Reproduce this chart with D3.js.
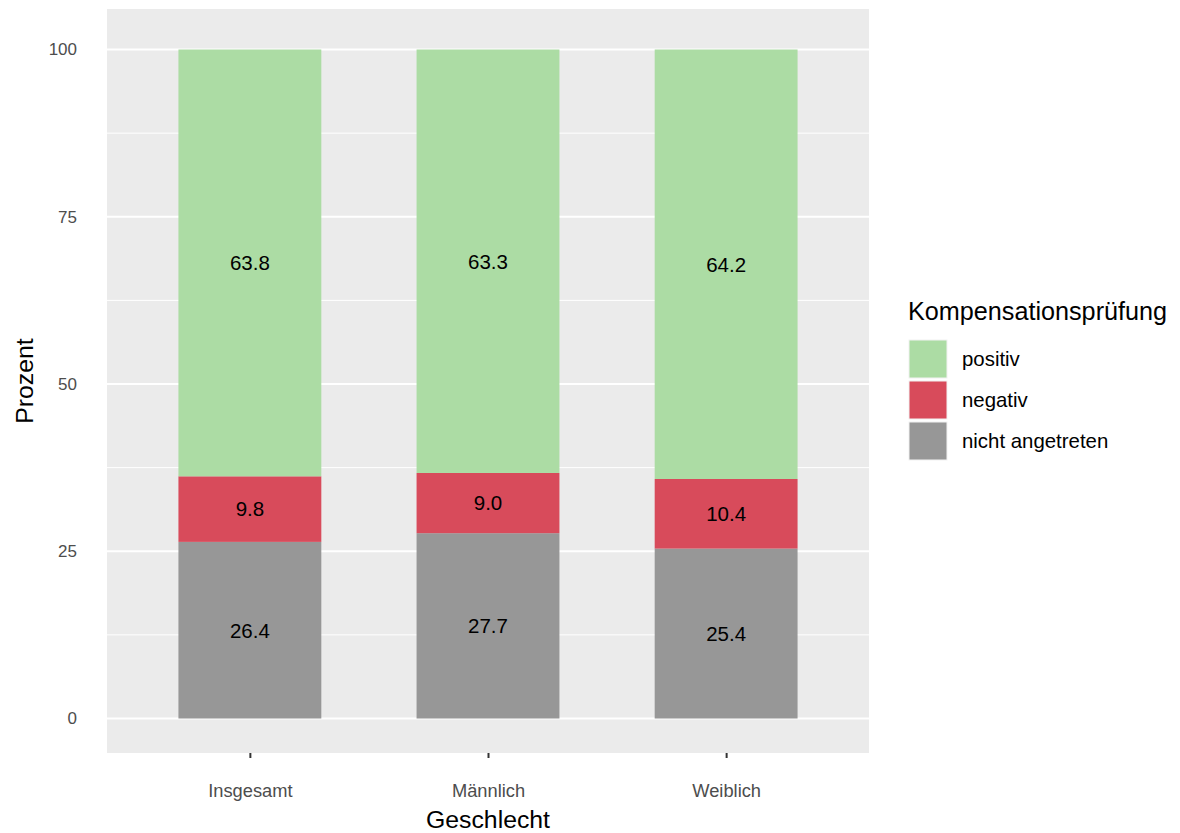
<!DOCTYPE html>
<html>
<head>
<meta charset="utf-8">
<script src="https://cdn.jsdelivr.net/npm/d3@7"></script>
<style>
  html, body { margin: 0; padding: 0; background: #ffffff; }
  svg { display: block; font-family: "Liberation Sans", Arial, sans-serif; }
</style>
</head>
<body>
<svg id="chart" width="1180" height="833"></svg>
<script>
// ---- data ----
const categories = ["Insgesamt", "Männlich", "Weiblich"];
const seriesNames = ["nicht angetreten", "negativ", "positiv"];   // stacking order from bottom
const nichtAngetreten = [26.4, 27.7, 25.4];
const negativ = [9.8, 9.0, 10.4];
const positiv = [63.8, 63.3, 64.2];
const yTicks = [0, 25, 50, 75, 100];
const yMinorTicks = [12.5, 37.5, 62.5, 87.5];
const legendOrder = ["positiv", "negativ", "nicht angetreten"];
const colors = { "positiv": "#acdca4", "negativ": "#d84b5b", "nicht angetreten": "#979797" };

const rows = categories.map((c, i) => ({
  cat: c,
  "nicht angetreten": nichtAngetreten[i],
  "negativ": negativ[i],
  "positiv": positiv[i]
}));

// ---- layout ----
const svg = d3.select("#chart");
const panel = { left: 107, right: 869, top: 9, bottom: 753 };

// y: 0 -> 718.5, 100 -> 49.5 (with ggplot-like expansion)
const y0px = 718.5, y100px = 49.5;
const pxPerUnit = (y0px - y100px) / 100;
const y = d3.scaleLinear()
  .domain([(y0px - panel.bottom) / pxPerUnit, (y0px - panel.top) / pxPerUnit])
  .range([panel.bottom, panel.top]);

// ggplot: each band of width 1, bar width 0.6, expansion 0.6 => 3.2 units
const x = d3.scaleLinear().domain([0.4, 3.6]).range([panel.left, panel.right]);
const cx = c => x(categories.indexOf(c) + 1);
const barW = x(1.3) - x(0.7);

// panel background
svg.append("rect")
  .attr("x", panel.left).attr("y", panel.top)
  .attr("width", panel.right - panel.left).attr("height", panel.bottom - panel.top)
  .attr("fill", "#ebebeb");

// minor gridlines
svg.append("g").selectAll("line").data(yMinorTicks).join("line")
  .attr("x1", panel.left).attr("x2", panel.right)
  .attr("y1", d => y(d)).attr("y2", d => y(d))
  .attr("stroke", "#ffffff").attr("stroke-width", 1);

// major gridlines
svg.append("g").selectAll("line").data(yTicks).join("line")
  .attr("x1", panel.left).attr("x2", panel.right)
  .attr("y1", d => y(d)).attr("y2", d => y(d))
  .attr("stroke", "#ffffff").attr("stroke-width", 2);

// stacked bars
const stack = d3.stack().keys(seriesNames)(rows);
const gBars = svg.append("g");
stack.forEach(layer => {
  gBars.append("g").selectAll("rect").data(layer).join("rect")
    .attr("x", d => cx(d.data.cat) - barW / 2)
    .attr("width", barW)
    .attr("y", d => y(d[1]))
    .attr("height", d => y(d[0]) - y(d[1]))
    .attr("fill", colors[layer.key]);
});

// value labels
stack.forEach(layer => {
  gBars.append("g").selectAll("text").data(layer).join("text")
    .attr("x", d => cx(d.data.cat))
    .attr("y", d => y((d[0] + d[1]) / 2))
    .attr("dy", "0.36em")
    .attr("text-anchor", "middle")
    .attr("font-size", 20.5)
    .attr("fill", "#000000")
    .text(d => (d[1] - d[0]).toFixed(1));
});

// y axis labels (no tick marks)
const yAxis = d3.axisLeft(y).tickValues(yTicks).tickSize(0).tickPadding(30);
const gy = svg.append("g").attr("transform", `translate(${panel.left},0)`).call(yAxis);
gy.select(".domain").remove();
gy.selectAll("text").attr("font-size", 17).attr("fill", "#4d4d4d")
  .attr("font-family", "Liberation Sans, Arial, sans-serif");

// x axis with ticks
const xAxis = d3.axisBottom(x).tickValues([1, 2, 3])
  .tickFormat(d => categories[d - 1]).tickSize(5).tickPadding(26);
const gx = svg.append("g").attr("transform", `translate(0,${panel.bottom})`).call(xAxis);
gx.select(".domain").remove();
gx.selectAll(".tick line").attr("stroke", "#333333").attr("stroke-width", 2);
gx.selectAll("text").attr("font-size", 18.3).attr("fill", "#4d4d4d")
  .attr("font-family", "Liberation Sans, Arial, sans-serif");

// axis titles
svg.append("text")
  .attr("x", (panel.left + panel.right) / 2).attr("y", 828)
  .attr("text-anchor", "middle").attr("font-size", 24.8).attr("fill", "#000")
  .text("Geschlecht");
svg.append("text")
  .attr("transform", `translate(33,${(panel.top + panel.bottom) / 2}) rotate(-90)`)
  .attr("text-anchor", "middle").attr("font-size", 24.8).attr("fill", "#000")
  .text("Prozent");

// legend
const lg = svg.append("g");
lg.append("text").attr("x", 908).attr("y", 320)
  .attr("font-size", 25.2).attr("fill", "#000").text("Kompensationsprüfung");
const keyTop = 340, keyH = 41, keySize = 38;
legendOrder.forEach((k, i) => {
  lg.append("rect")
    .attr("x", 909).attr("y", keyTop + i * keyH)
    .attr("width", keySize).attr("height", keySize)
    .attr("fill", colors[k]).attr("stroke", "#f2f2f2").attr("stroke-width", 1);
  lg.append("text")
    .attr("x", 962).attr("y", keyTop + i * keyH + keySize / 2)
    .attr("dy", "0.35em").attr("font-size", 20.4).attr("fill", "#000")
    .text(k);
});
</script>
</body>
</html>
